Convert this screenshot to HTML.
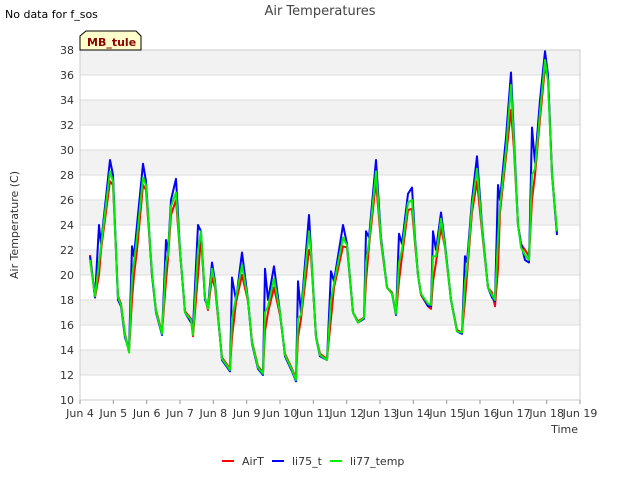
<!DOCTYPE html>
<html><head><meta charset="utf-8"><style>
body{margin:0;background:#fff;font-family:"Liberation Sans","DejaVu Sans",sans-serif;}
svg text{font-family:"DejaVu Sans","Liberation Sans",sans-serif;}
</style></head><body>
<svg id="chart" width="640" height="480" xmlns="http://www.w3.org/2000/svg">
<rect width="640" height="480" fill="#fff"/>
<g id="bands"></g>
<g id="grid"></g>
<rect x="80" y="50" width="500" height="350" fill="none" stroke="#ccc"/>
<g id="yticks" font-size="11" fill="#333"></g>
<g id="xticks" font-size="11" fill="#333"></g>
<g id="series"></g>
<text x="320" y="15" text-anchor="middle" font-size="13" fill="#444">Air Temperatures</text>
<text x="5" y="18" font-size="11" fill="#000">No data for f_sos</text>
<g>
<path d="M80,50 L80,36 L86,31 L136,31 L141,36 L141,50 Z" fill="#ffffcc" stroke="#000"/>
<text x="87" y="46" font-size="11" font-weight="bold" fill="#8b0000">MB_tule</text>
</g>
<text x="18" y="225" transform="rotate(-90 18 225)" text-anchor="middle" font-size="11" fill="#333">Air Temperature (C)</text>
<text x="578" y="433" text-anchor="end" font-size="11" fill="#333">Time</text>
<g id="legend" font-size="11" fill="#333"></g>
</svg>
<script>
const yTicks=[10,12,14,16,18,20,22,24,26,28,30,32,34,36,38];
const xTickLabels=["Jun 4","Jun 5","Jun 6","Jun 7","Jun 8","Jun 9","Jun 10","Jun 11","Jun 12","Jun 13","Jun 14","Jun 15","Jun 16","Jun 17","Jun 18","Jun 19"];
const seriesNames=["AirT","li75_t","li77_temp"];
const seriesColors=["#ff0000","#0000ff","#00ee00"];
const days=[0.3,0.45,0.57,0.63,0.9,0.99,1.14,1.23,1.35,1.47,1.56,1.62,1.71,1.89,1.98,2.16,2.28,2.46,2.58,2.64,2.73,2.88,3.0,3.15,3.33,3.39,3.54,3.63,3.75,3.84,3.96,4.05,4.26,4.5,4.56,4.68,4.86,5.04,5.16,5.34,5.49,5.55,5.64,5.82,6.0,6.15,6.36,6.48,6.54,6.63,6.87,6.93,7.08,7.2,7.41,7.53,7.62,7.89,8.01,8.19,8.34,8.52,8.58,8.67,8.88,9.03,9.21,9.36,9.48,9.57,9.66,9.84,9.96,10.05,10.14,10.23,10.44,10.53,10.59,10.68,10.83,10.95,11.13,11.31,11.46,11.55,11.61,11.76,11.91,12.06,12.24,12.36,12.45,12.54,12.6,12.78,12.93,13.02,13.14,13.23,13.35,13.47,13.56,13.65,13.8,13.95,14.04,14.16,14.31];
const li75=[21.5,18.2,24,22.5,29.2,28,18,17.5,15,14,22.3,21.5,24,28.9,27.5,20,17,15.2,22.8,21.8,26,27.7,22,17,16.2,15.8,24,23.5,18,17.5,21,19.5,13.2,12.3,19.8,18,21.8,18,14.5,12.5,12,20.5,18,20.7,17,13.5,12.3,11.5,19.5,17,24.8,22,15,13.5,13.2,20.3,19.5,24,22.5,17,16.2,16.5,23.5,23,29.2,23,19,18.5,16.8,23.3,22.5,26.5,27,23,20,18.5,17.5,17.5,23.5,22,25,22.5,18,15.5,15.3,21.5,21,26,29.5,24,19,18.2,17.9,27.2,26,31,36.2,31,24,22.5,21.2,21,31.8,29,34,37.9,36,28,23.2];
const li77=[21.2,18.3,21,22.3,28.3,27.5,18.2,17.6,15.2,13.8,19.8,21,23,27.8,27.2,20.2,17.1,15.3,21,21.6,25.5,26.6,22,17,16.4,15.2,22,23.5,18.2,17.3,20.5,19.3,13.3,12.4,16.5,18.2,20.8,18,14.6,12.6,12.1,17,17.5,19.7,17,13.6,12.4,11.6,16.5,16.8,23.5,21.8,15,13.6,13.2,18,19.3,23,22.4,17,16.2,16.6,21,22.6,28.3,22.8,19,18.5,16.9,21,22,25.8,26,22.8,20,18.5,17.7,17.6,21.5,21.5,24.5,22.3,18,15.5,15.4,19.5,20.5,25.5,28.5,23.8,19,18.4,18,23,25.5,30,35.2,30.5,24,22.2,21.6,21.2,28,28.5,33,37.2,35.5,28,23.5];
const airT=[21.6,18.2,20,22,27.5,27.2,18.3,17.7,15.3,13.9,18,20,22,27.2,26.8,20,17.2,15.4,19.5,21.3,24.8,26,21.8,17.1,16.5,15.1,20,23,18.2,17.2,19.8,19,13.4,12.5,15,17.8,20,17.9,14.7,12.7,12.2,15.5,17,19,16.8,13.7,12.5,11.7,15,16.5,22,21.5,15.1,13.7,13.3,16.5,19,22.3,22.2,17,16.3,16.6,19.5,22.3,27.5,22.6,19,18.6,16.9,19.5,21.5,25.2,25.3,22.5,20,18.4,17.5,17.3,19.5,21,23.8,22.2,18,15.6,15.4,18,20,25,27.5,23.5,19,18.6,17.5,20.5,25,29.5,33.2,30,24,22.5,22,21.5,26,28,32.5,36.6,35.8,28.2,23.4];
const X0=80,PW=500,Y0=400,PH=350;
function xScale(d){return X0+d*PW/(xTickLabels.length-1);}
function yScale(t){return Y0-(t-yTicks[0])*PH/(yTicks[yTicks.length-1]-yTicks[0]);}
const NS="http://www.w3.org/2000/svg";
function mk(tag,attrs,parent){const e=document.createElementNS(NS,tag);for(const k in attrs)e.setAttribute(k,attrs[k]);parent.appendChild(e);return e;}
const bands=document.getElementById('bands'),grid=document.getElementById('grid');
for(let i=0;i<yTicks.length-1;i++){
 if(i%2===1){const r=mk('rect',{x:X0,y:yScale(yTicks[i+1]),width:PW,height:yScale(yTicks[i])-yScale(yTicks[i+1]),fill:'#f2f2f2'},bands);
 
 }
}
const yt=document.getElementById('yticks');
yTicks.forEach(t=>{const y=yScale(t);
 const l=mk('line',{x1:X0,x2:X0+PW,y1:y,y2:y,stroke:'#ddd'},grid);
 
 
 const tx=mk('text',{x:X0-6,y:y+4,'text-anchor':'end'},yt);tx.textContent=t;
 
 
});
const xt=document.getElementById('xticks');
xTickLabels.forEach((s,i)=>{const x=xScale(i);
 const l=mk('line',{x1:x,x2:x,y1:Y0,y2:Y0+4,stroke:'#999'},xt);
 
 
 const tx=mk('text',{x:x,y:Y0+17,'text-anchor':'middle'},xt);tx.textContent=s;
 
 
});
const ser=document.getElementById('series');
[airT,li75,li77].forEach((vals,k)=>{
 const pts=vals.map((v,i)=>xScale(days[i]).toFixed(1)+','+yScale(v).toFixed(1)).join(' ');
 const p=mk('polyline',{points:pts,fill:'none',stroke:seriesColors[k],'stroke-width':2,'stroke-linejoin':'round'},ser);
 
 
});
const lg=document.getElementById('legend');
const lx=[222,272,330];
seriesNames.forEach((n,k)=>{
 const g=mk('g',{},lg);
 
 
 mk('line',{x1:lx[k],x2:lx[k]+12,y1:461,y2:461,stroke:seriesColors[k],'stroke-width':2},g);
 const t=mk('text',{x:lx[k]+20,y:465},g);t.textContent=n;
});
</script>
</body></html>
